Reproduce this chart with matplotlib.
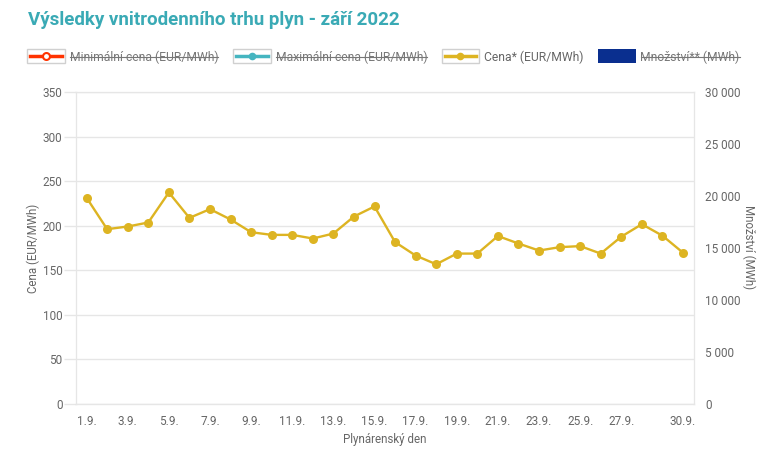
import matplotlib
matplotlib.use("Agg")
import matplotlib.pyplot as plt
from matplotlib.lines import Line2D
from matplotlib.patches import Rectangle
from matplotlib.ticker import FuncFormatter

plt.rcParams['font.family'] = ['Roboto', 'DejaVu Sans']

days = list(range(1, 31))
price = [231.6, 196.3, 199.3, 203.8, 237.5, 209.0, 218.8, 207.2, 192.9, 189.9,
         189.9, 185.8, 191.4, 210.5, 221.8, 181.8, 166.7, 156.9, 168.9, 168.9,
         188.6, 180.2, 172.3, 176.1, 177.3, 168.9, 187.9, 201.9, 189.0, 169.9]
tick_days = [1, 3, 5, 7, 9, 11, 13, 15, 17, 19, 21, 23, 25, 27, 30]
tick_labels = [f"{d}.9." for d in tick_days]
left_ticks = [0, 50, 100, 150, 200, 250, 300, 350]
right_ticks = [0, 5000, 10000, 15000, 20000, 25000, 30000]

title = "Výsledky vnitrodenního trhu plyn - září 2022"
legend_labels = ["Minimální cena (EUR/MWh)", "Maximální cena (EUR/MWh)",
                 "Cena* (EUR/MWh)", "Množství** (MWh)"]
legend_hidden = [True, True, False, True]
legend_colors = ["#FF3300", "#45B5C0", "#DDB422", "#0A2F8F"]

W, H = 780, 459
fig = plt.figure(figsize=(W / 100, H / 100), dpi=100)

def fx(px):
    return px / W

def fy(py):
    return 1 - py / H

L, R, T, B = 76.3, 694.3, 92.3, 404.0
ax = fig.add_axes([fx(L), fy(B), fx(R - L), fy(T) - fy(B)])
ax2 = ax.twinx()

yellow = "#DDB422"
grid_c = "#E6E6E6"
txt_c = "#666666"

ax.plot(days, price, color=yellow, lw=1.7, marker='o', markersize=6.5,
        markeredgewidth=0, zorder=3, clip_on=False)
ax.set_xlim(0.5, 30.55)
ax.set_ylim(0, 350)
ax.set_yticks(left_ticks)
ax.set_xticks(tick_days)
ax.set_xticklabels(tick_labels)
ax.yaxis.grid(True, color=grid_c, lw=1)
ax.set_axisbelow(True)
ax.tick_params(axis='y', length=9, width=1, color=grid_c, labelcolor=txt_c,
               labelsize=8.5, pad=1)
ax.tick_params(axis='x', length=0, labelcolor=txt_c, labelsize=8.5, pad=8)
for s in ax.spines.values():
    s.set_color(grid_c)
ax.spines['bottom'].set_color("#CCCCCC")

ax2.set_ylim(0, 30000)
ax2.set_yticks(right_ticks)
ax2.yaxis.set_major_formatter(FuncFormatter(lambda v, p: f"{int(v):,}".replace(",", " ")))
ax2.tick_params(axis='y', length=0, labelcolor=txt_c, labelsize=8.5, pad=8)
for s in ax2.spines.values():
    s.set_color(grid_c)

fig.text(fx(33), fy(248), "Cena (EUR/MWh)", rotation=90, ha='center', va='center',
         color=txt_c, fontsize=8.3)
fig.text(fx(749), fy(247), "Množství (MWh)", rotation=270, ha='center', va='center',
         color=txt_c, fontsize=8.3)
fig.text(fx(385), fy(439), "Plynárenský den", ha='center', va='center',
         color=txt_c, fontsize=8.3)

fig.text(fx(28), fy(20), title, ha='left', va='center', color="#3AAAB5",
         fontsize=13.5, fontweight='bold')

# legend
ly = 56
box_x = [27.3, 233.0, 441.7, 597.7]
text_x = [69.5, 275.5, 484.0, 640.5]
texts = []
for i in range(4):
    c = legend_colors[i]
    if i < 3:
        fig.patches.append(Rectangle((fx(box_x[i]), fy(62.7)), fx(37.5), fy(49.3) - fy(62.7),
                                     transform=fig.transFigure, facecolor='white',
                                     edgecolor='#D0D0D0', lw=1.0))
        fig.lines.append(Line2D([fx(box_x[i] + 3), fx(box_x[i] + 34.5)], [fy(ly), fy(ly)],
                                transform=fig.transFigure, color=c, lw=2.5))
        if i == 0:
            fig.lines.append(Line2D([fx(box_x[i] + 18.75)], [fy(ly)], transform=fig.transFigure,
                                    marker='o', markersize=5, markerfacecolor='white',
                                    markeredgecolor=c, markeredgewidth=1.5))
        else:
            fig.lines.append(Line2D([fx(box_x[i] + 18.75)], [fy(ly)], transform=fig.transFigure,
                                    marker='o', markersize=5.5, color=c, markeredgewidth=0))
    else:
        fig.patches.append(Rectangle((fx(box_x[i]), fy(62.7)), fx(38), fy(49.3) - fy(62.7),
                                     transform=fig.transFigure, facecolor=c, edgecolor='none'))
    t = fig.text(fx(text_x[i]), fy(ly + 1), legend_labels[i], ha='left', va='center',
                 color="#777777" if legend_hidden[i] else txt_c, fontsize=8.7)
    texts.append(t)

fig.canvas.draw()
r = fig.canvas.get_renderer()
for i, t in enumerate(texts):
    if legend_hidden[i]:
        bb = t.get_window_extent(r)
        ymid = (bb.y0 + bb.y1) / 2 / H
        fig.lines.append(Line2D([bb.x0 / W, bb.x1 / W], [ymid, ymid],
                                transform=fig.transFigure, color="#777777", lw=0.8))

fig.savefig("out.png", dpi=100, facecolor='white')
